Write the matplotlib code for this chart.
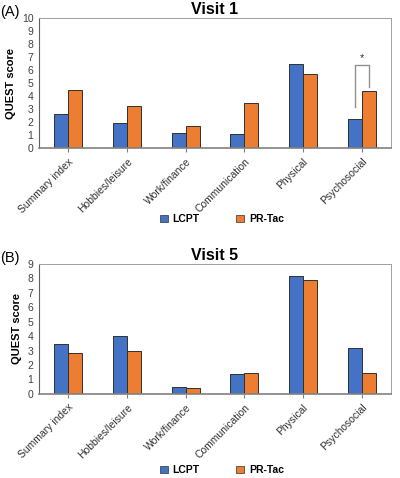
import matplotlib.pyplot as plt
import numpy as np
from matplotlib.patches import Patch

plt.rcParams['font.family'] = ['Liberation Sans', 'DejaVu Sans']

categories = ["Summary index", "Hobbies/leisure", "Work/finance",
              "Communication", "Physical", "Psychosocial"]
visit1_lcpt = [2.62, 1.97, 1.13, 1.08, 6.44, 2.26]
visit1_prtac = [4.46, 3.26, 1.69, 3.46, 5.72, 4.36]
visit5_lcpt = [3.48, 3.99, 0.48, 1.36, 8.17, 3.18]
visit5_prtac = [2.82, 3.00, 0.42, 1.43, 7.89, 1.45]

blue = "#4472C4"
orange = "#ED7D31"

fig = plt.figure(figsize=(4.0, 4.78), dpi=100)
ax1 = fig.add_axes([0.0975, 0.690, 0.88, 0.272])
ax2 = fig.add_axes([0.0975, 0.176, 0.88, 0.272])

x = np.arange(len(categories))
w = 0.24


def draw(ax, lcpt, prtac, ymax, title, letter, legend_y):
    ax.bar(x - w / 2, lcpt, w, color=blue, edgecolor="#303030", linewidth=0.7)
    ax.bar(x + w / 2, prtac, w, color=orange, edgecolor="#303030", linewidth=0.7)
    ax.set_xlim(-0.5, len(categories) - 0.5)
    ax.set_ylim(0, ymax)
    ax.set_yticks(range(0, ymax + 1))
    ax.tick_params(axis="y", length=0, labelsize=7.5, colors="#404040", pad=4)
    ax.set_xticks(x)
    ax.set_xticklabels(categories, rotation=45, ha="right", rotation_mode="anchor",
                       fontsize=7.5, color="#303030")
    ax.tick_params(axis="x", length=3, color="#808080", pad=3)
    for s in ["top", "right"]:
        ax.spines[s].set_color("#a0a0a0")
        ax.spines[s].set_linewidth(0.7)
    ax.spines["left"].set_color("#606060")
    ax.spines["left"].set_linewidth(0.8)
    ax.spines["bottom"].set_color("#808080")
    ax.spines["bottom"].set_linewidth(1.2)
    ax.set_ylabel("QUEST score", fontsize=8, fontweight="bold", labelpad=4)
    ax.set_title(title, fontsize=11.5, fontweight="bold", pad=3)
    bb = ax.get_position()
    fig.text(0.0, bb.y1 + 0.012, letter, fontsize=10.5, va="center", ha="left")
    handles = [Patch(facecolor=blue, edgecolor="#303030", linewidth=0.5),
               Patch(facecolor=orange, edgecolor="#303030", linewidth=0.5)]
    fig.legend(handles, ["LCPT", "PR-Tac"], loc="center", ncol=2,
               bbox_to_anchor=(0.555, legend_y), frameon=False,
               prop={"size": 7.5, "weight": "bold"}, handlelength=0.7,
               handleheight=0.7, columnspacing=3.5, handletextpad=0.5)


draw(ax1, visit1_lcpt, visit1_prtac, 10, "Visit 1", "(A)", 0.542)
draw(ax2, visit5_lcpt, visit5_prtac, 9, "Visit 5", "(B)", 0.017)

# significance bracket on Psychosocial, visit 1
i = 5
ax1.plot([i - w / 2, i - w / 2, i + w / 2, i + w / 2], [3.13, 6.41, 6.41, 4.69],
         color="#909090", linewidth=1.0)
ax1.text(i, 6.55, "*", ha="center", va="bottom", fontsize=8, color="#303030")

fig.savefig("out.png", dpi=100)
